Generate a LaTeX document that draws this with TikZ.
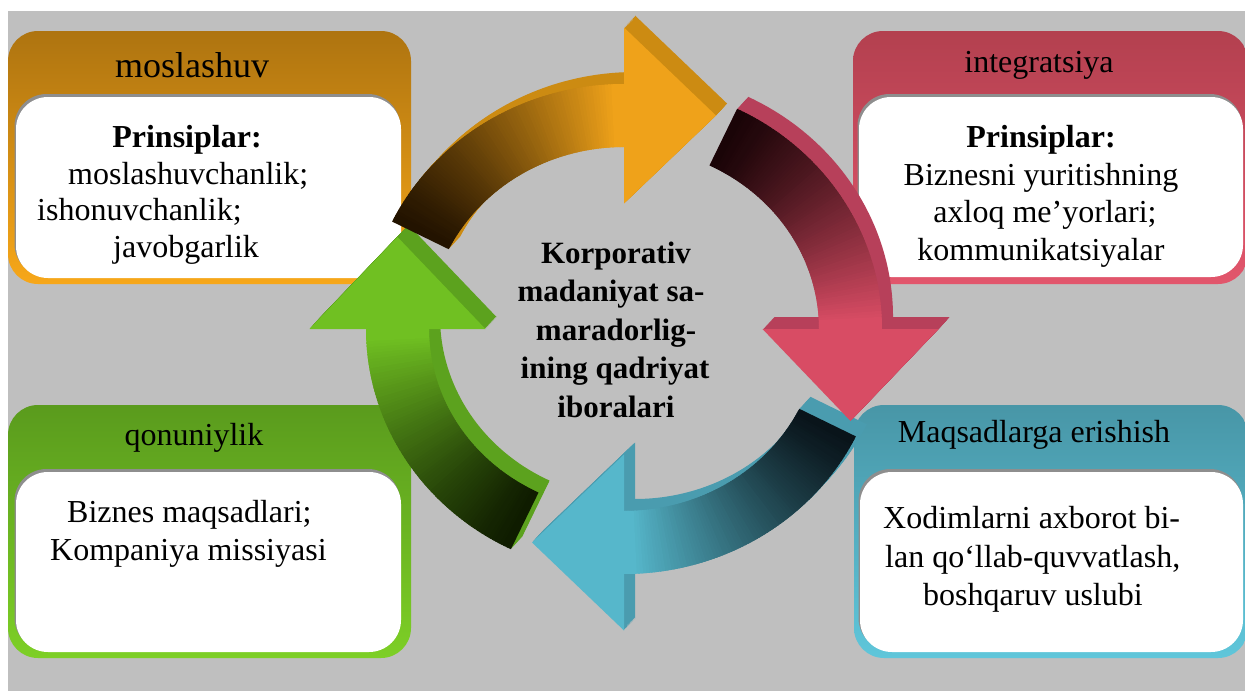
\documentclass[tikz,border=0pt]{standalone}
\usepackage{fontspec}
\setmainfont{Liberation Serif}

% panel colours
\definecolor{bgGray}{HTML}{BFBFBF}
\definecolor{panelShadow}{HTML}{8E8E8E}
\definecolor{tlTop}{HTML}{AE7410}
\definecolor{tlBot}{HTML}{F7A719}
\definecolor{trTop}{HTML}{B3404F}
\definecolor{trBot}{HTML}{E2566C}
\definecolor{blTop}{HTML}{5A9B1D}
\definecolor{blBot}{HTML}{7DCF26}
\definecolor{brTop}{HTML}{4896A7}
\definecolor{brBot}{HTML}{5FC6DA}
% arrow colours: dark end, bright end, extruded side
\definecolor{oDark}{HTML}{231300}
\definecolor{oBright}{HTML}{EFA21A}
\definecolor{oSide}{HTML}{CC8B12}
\definecolor{rDark}{HTML}{1A0407}
\definecolor{rBright}{HTML}{D84C64}
\definecolor{rSide}{HTML}{B7405A}
\definecolor{bDark}{HTML}{09141A}
\definecolor{bBright}{HTML}{56B7CB}
\definecolor{bSide}{HTML}{4A9CAF}
\definecolor{gDark}{HTML}{0F1C00}
\definecolor{gBright}{HTML}{70C022}
\definecolor{gSide}{HTML}{5CA21E}

% ring geometry (centre, outer / middle / inner radii, arrow head)
\def\cx{624}\def\cy{329}
\def\rxo{258}\def\ryo{245}
\def\rxm{226.5}\def\rym{213.5}
\def\rxi{195}\def\ryi{182}
\def\hw{88}\def\hl{92}
\def\tspan{64}
\def\nslices{90}

% full outline of one curved arrow, head at angle \bA, tail at \tA
\def\arrowpath{%
  plot[domain=\tA:\bA,samples=50] ({\cx+\rxo*cos(\x)},{\cy-\ryo*sin(\x)})
  -- ({\cx+(\rxm+\hw)*cos(\bA)},{\cy-(\rym+\hw)*sin(\bA)})
  -- ({\cx+\rxm*cos(\bA)+\hl*sin(\bA)},{\cy-\rym*sin(\bA)+\hl*cos(\bA)})
  -- ({\cx+(\rxm-\hw)*cos(\bA)},{\cy-(\rym-\hw)*sin(\bA)})
  -- plot[domain=\bA:\tA,samples=50] ({\cx+\rxi*cos(\x)},{\cy-\ryi*sin(\x)})
  -- cycle}
\def\headpath{%
  ({\cx+(\rxm+\hw)*cos(\bA)},{\cy-(\rym+\hw)*sin(\bA)})
  -- ({\cx+\rxm*cos(\bA)+\hl*sin(\bA)},{\cy-\rym*sin(\bA)+\hl*cos(\bA)})
  -- ({\cx+(\rxm-\hw)*cos(\bA)},{\cy-(\rym-\hw)*sin(\bA)})
  -- cycle}

% #1 head angle, #2 dark, #3 bright, #4 side colour
\newcommand\ringarrow[4]{%
  \pgfmathsetmacro\bA{#1}%
  \pgfmathsetmacro\tA{#1+\tspan}%
  \foreach \k in {1,...,12}{\fill[#4, shift={(\k*0.92,-\k)}] \arrowpath;}
  \foreach \i in {0,...,89}{%
    \pgfmathsetmacro\angA{\tA-\i*\tspan/\nslices}%
    \pgfmathsetmacro\angB{\tA-(\i+1)*\tspan/\nslices-0.5}%
    \pgfmathtruncatemacro\pp{min(100,100*(\i/86)^1.25)}%
    \fill[fill=#3!\pp!#2]
      plot[domain=\angA:\angB,samples=2] ({\cx+\rxo*cos(\x)},{\cy-\ryo*sin(\x)})
      -- plot[domain=\angB:\angA,samples=2] ({\cx+\rxi*cos(\x)},{\cy-\ryi*sin(\x)})
      -- cycle;}
  \fill[#3] \headpath;
}

\begin{document}
\begin{tikzpicture}[x=1pt,y=-1pt,
  outer/.style={rounded corners=30pt},
  inner/.style={rounded corners=32pt},
  ttl/.style={font=\fontsize{32}{38}\selectfont, anchor=base, inner sep=0pt},
  ttlbig/.style={font=\fontsize{36}{42}\selectfont, anchor=base, inner sep=0pt},
  bc/.style={font=\fontsize{32}{38}\selectfont, anchor=base, inner sep=0pt},
  bl/.style={font=\fontsize{32}{38}\selectfont, anchor=base west, inner sep=0pt},
  core/.style={font=\fontsize{31}{38}\selectfont\bfseries, anchor=base, inner sep=0pt}]
\useasboundingbox (0,0) rectangle (1245,691);
\fill[bgGray] (8,11) rectangle (1245,691);

% four coloured panels with white cards
\shade[outer, top color=tlTop, bottom color=tlBot] (8,31) rectangle (411,284);
\fill[inner, panelShadow] (14.5,94) rectangle (400,276);
\fill[inner, white] (16,97) rectangle (401,278);

\shade[outer, top color=trTop, bottom color=trBot] (853,31) rectangle (1248,284);
\fill[inner, panelShadow] (857.5,94) rectangle (1242,275);
\fill[inner, white] (859,97) rectangle (1243,277);

\shade[outer, top color=blTop, bottom color=blBot] (8,405) rectangle (411,658);
\fill[inner, panelShadow] (14.5,469) rectangle (400,650);
\fill[inner, white] (16,472) rectangle (401,652);

\shade[outer, top color=brTop, bottom color=brBot] (854,405) rectangle (1248,658);
\fill[inner, panelShadow] (858.5,469) rectangle (1242,650);
\fill[inner, white] (860,472) rectangle (1243,652);

% panel texts
\node[ttlbig] (tlTitle) at (192,77) {moslashuv};
\node[bc] (tlHead) at (187,147) {\bfseries Prinsiplar:};
\node[bl] (tlA) at (68,184) {moslashuvchanlik;};
\node[bl] (tlB) at (37,220) {ishonuvchanlik;};
\node[bl] (tlC) at (113,257) {javobgarlik};

\node[ttl] (trTitle) at (1039,72) {integratsiya};
\node[bc] (trHead) at (1041,147) {\bfseries Prinsiplar:};
\node[bc] (trA) at (1041,185) {Biznesni yuritishning};
\node[bc] (trB) at (1045,222) {axloq me’yorlari;};
\node[bc] (trC) at (1041,260) {kommunikatsiyalar};

\node[ttl] (blTitle) at (194,445) {qonuniylik};
\node[bl] (blA) at (67,522) {Biznes maqsadlari;};
\node[bl] (blB) at (50,560) {Kompaniya missiyasi};

\node[ttl] (brTitle) at (1034,442) {Maqsadlarga erishish};
\node[bl] (brA) at (883,528) {Xodimlarni axborot bi-};
\node[bl] (brB) at (885,567) {lan qo‘llab-quvvatlash,};
\node[bl] (brC) at (923,605) {boshqaruv uslubi};

% ring of four curved arrows
\ringarrow{180}{gDark}{gBright}{gSide}
\ringarrow{90}{oDark}{oBright}{oSide}
\ringarrow{270}{bDark}{bBright}{bSide}
\ringarrow{0}{rDark}{rBright}{rSide}

% central caption
\node[core] (coreA) at (616,263) {Korporativ};
\node[core] (coreB) at (611,301) {madaniyat sa-};
\node[core] (coreC) at (616,340) {maradorlig-};
\node[core] (coreD) at (615,378) {ining qadriyat};
\node[core] (coreE) at (616,417) {iboralari};
\end{tikzpicture}
\end{document}
